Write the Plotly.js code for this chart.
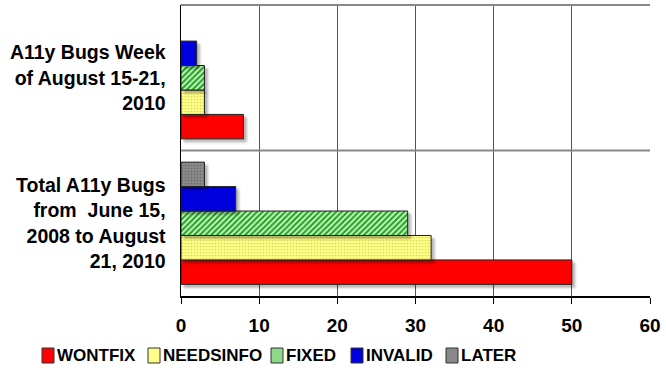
<!DOCTYPE html>
<html><head><meta charset="utf-8">
<script src="https://cdn.plot.ly/plotly-3.0.1.min.js"></script>
<style>
html,body{margin:0;padding:0;background:#fff;}
#chart{width:666px;height:382px;}
.barlayer .point path{filter:drop-shadow(3px 3px 1px rgba(0,0,0,0.28));}
</style>
</head><body>
<div id="chart"></div>
<script>
const categories = ["Total A11y Bugs<br>from  June 15,<br>2008 to August<br>21, 2010", "A11y Bugs Week<br>of August 15-21,<br>2010"];
const seriesNames = ["WONTFIX", "NEEDSINFO", "FIXED", "INVALID", "LATER"];
const wontfix = [50, 8];
const needsinfo = [32, 3];
const fixed = [29, 3];
const invalid = [7, 2];
const later = [3, 0];
const xTicks = [0, 10, 20, 30, 40, 50, 60];

const values = [wontfix, needsinfo, fixed, invalid, later];
const styles = [
  {color: "#ff0000", swatch: "#ff0000", pattern: {shape: ""}},
  {color: "#ffff88", swatch: "#ffff88", pattern: {shape: ".", fgcolor: "#d8d860", bgcolor: "#ffff88", size: 3, solidity: 0.25}},
  {color: "#ffffff", swatch: "#8ed88a", pattern: {shape: "/", fgcolor: "#22a822", bgcolor: "#dcf8d4", size: 4, solidity: 0.55}},
  {color: "#0000dd", swatch: "#0000dd", pattern: {shape: ""}},
  {color: "#888888", swatch: "#888888", pattern: {shape: ".", fgcolor: "#707070", bgcolor: "#8c8c8c", size: 3, solidity: 0.3}}
];

const traces = seriesNames.map((name, i) => ({
  type: "bar",
  orientation: "h",
  name: name,
  y: categories,
  x: values[i],
  marker: {color: styles[i].color, pattern: styles[i].pattern,
           line: {color: "#222", width: values[i].map(v => v > 0 ? 1 : 0)}},
  hoverinfo: "x+name"
}));

// page geometry (pixels)
const W = 666, H = 382;
const M = {l: 181, r: 16, t: 5, b: 86};
const plotW = W - M.l - M.r, plotH = H - M.t - M.b;
const px2paperX = p => (p - M.l) / plotW;
const px2paperY = p => (H - M.b - p) / plotH;

// legend drawn as shapes + annotations, one entry per series
const legendSwatchLeft = [42, 148, 271, 351, 446];
const legendTop = 348, legendBottom = 363, swatchW = 12, textGap = 14;

const fontFam = "Liberation Sans, Arial, sans-serif";
const legendShapes = seriesNames.map((n, i) => ({
  type: "rect", xref: "paper", yref: "paper",
  x0: px2paperX(legendSwatchLeft[i]), x1: px2paperX(legendSwatchLeft[i] + swatchW),
  y0: px2paperY(legendBottom), y1: px2paperY(legendTop),
  fillcolor: styles[i].swatch, line: {color: "#333", width: 1}
}));
const legendAnns = seriesNames.map((n, i) => ({
  text: n, showarrow: false, xref: "paper", yref: "paper",
  x: px2paperX(legendSwatchLeft[i] + textGap), xanchor: "left",
  y: px2paperY((legendTop + legendBottom) / 2), yanchor: "middle",
  borderpad: 0,
  font: {family: fontFam, size: 17, color: "#000", weight: "bold"}
}));

const layout = {
  width: W, height: H,
  margin: M,
  paper_bgcolor: "#fff", plot_bgcolor: "#fff",
  barmode: "group", bargap: 0.16, bargroupgap: 0,
  showlegend: false,
  xaxis: {
    range: [0, 60], tickvals: xTicks, ticktext: xTicks.map(String),
    showgrid: true, gridcolor: "#555", gridwidth: 1,
    showline: true, linecolor: "#000", linewidth: 1.5,
    ticks: "outside", ticklen: 6, tickcolor: "#000",
    ticklabelstandoff: 6,
    zeroline: false,
    tickfont: {family: fontFam, size: 19, color: "#000", weight: "bold"},
    fixedrange: true
  },
  yaxis: {
    type: "category", categoryorder: "array", categoryarray: categories,
    range: [-0.5, 1.5],
    showgrid: false, showline: true, linecolor: "#000", linewidth: 1.5,
    ticks: "", ticklabelstandoff: 10,
    tickfont: {family: fontFam, size: 19.5, color: "#000", weight: "bold"},
    zeroline: false, fixedrange: true
  },
  shapes: [
    {type: "line", xref: "paper", yref: "y", x0: 0, x1: 1, y0: 0.5, y1: 0.5, line: {color: "#888", width: 2}},
    {type: "line", xref: "paper", yref: "paper", x0: 0, x1: 1, y0: 1, y1: 1, line: {color: "#888", width: 2}}
  ].concat(legendShapes),
  annotations: legendAnns
};

Plotly.newPlot("chart", traces, layout, {displayModeBar: false, staticPlot: true});
</script>
</body></html>
